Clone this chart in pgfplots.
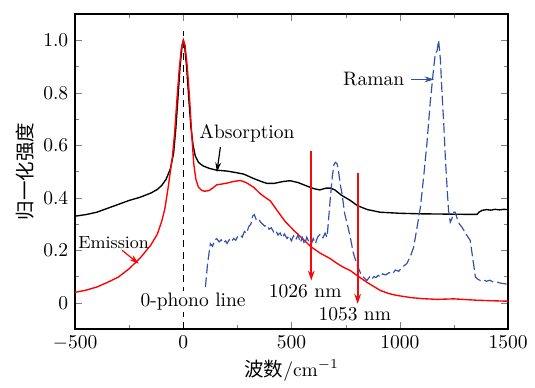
\documentclass[border=0pt]{standalone}
\usepackage{pgfplots}
\pgfplotsset{compat=1.18}
\usepackage{fontspec}
\newfontfamily\cjk{Noto Sans CJK SC}
\usetikzlibrary{arrows.meta}
\definecolor{ramanblue}{RGB}{50,80,170}
\definecolor{arrred}{RGB}{245,10,10}
\begin{document}
\begin{tikzpicture}
\begin{axis}[
  scale only axis,
  width=222pt, height=161.5pt,
  xmin=-500, xmax=1500, ymin=-0.1, ymax=1.1,
  xtick={-500,0,500,1000,1500},
  ytick={0,0.2,0.4,0.6,0.8,1.0},
  yticklabels={0,0.2,0.4,0.6,0.8,1.0},
  xticklabel style={/pgf/number format/set thousands separator={}},
  minor x tick num=1, minor y tick num=1,
  tick align=inside,
  major tick length=3.5pt, minor tick length=2pt,
  axis line style={line width=0.8pt},
  xlabel={{\cjk 波数}/cm$^{-1}$},
  ylabel={{\cjk 归一化强度}},
  ylabel style={yshift=-2pt},
  xlabel style={yshift=2pt},
  clip=false,
]
% 0-phonon dashed line
\addplot[black, line width=0.7pt, dash pattern=on 3.5pt off 2.5pt] coordinates {(0,-0.1) (0,1.035)};
% Absorption
\addplot[black, line width=0.7pt] coordinates {
(-500,0.330) (-450,0.336) (-400,0.345) (-350,0.360) (-300,0.375) (-250,0.390)
(-200,0.402) (-150,0.418) (-120,0.432) (-100,0.447) (-80,0.470) (-60,0.510)
(-45,0.57) (-35,0.66) (-25,0.78) (-15,0.90) (-5,0.985) (0,1.0) (5,0.985)
(15,0.90) (25,0.78) (35,0.67) (45,0.60) (55,0.56) (70,0.535) (90,0.522)
(120,0.512) (155,0.505) (200,0.502) (250,0.495) (280,0.49) (320,0.475)
(360,0.462) (386,0.455) (420,0.455) (460,0.462) (494,0.465) (530,0.458)
(570,0.445) (602,0.435) (630,0.430) (660,0.437) (680,0.437) (700,0.430)
(730,0.410) (771,0.390) (802,0.371) (850,0.355) (910,0.345) (1000,0.341)
(1095,0.339) (1200,0.338) (1300,0.337) (1357,0.337) (1365,0.345) (1380,0.352)
(1400,0.355) (1420,0.353) (1440,0.356) (1460,0.354) (1480,0.356) (1500,0.355)
};
% Emission
\addplot[red, line width=0.7pt] coordinates {
(-500,0.040) (-450,0.048) (-400,0.060) (-350,0.078) (-300,0.098) (-250,0.130)
(-200,0.170) (-150,0.220) (-120,0.262) (-100,0.310) (-85,0.360) (-70,0.440)
(-60,0.500) (-50,0.560) (-40,0.65) (-30,0.77) (-20,0.88) (-10,0.965) (0,1.0)
(8,0.98) (18,0.90) (28,0.79) (38,0.65) (48,0.53) (58,0.47) (70,0.44)
(85,0.428) (100,0.425) (120,0.428) (140,0.440) (155,0.450) (175,0.452)
(202,0.456) (230,0.462) (263,0.466) (290,0.458) (325,0.440) (356,0.415)
(386,0.397) (402,0.388) (433,0.352) (470,0.310) (510,0.276) (550,0.245)
(587,0.215) (630,0.190) (679,0.168) (710,0.150) (740,0.135) (771,0.123)
(802,0.104) (850,0.077) (910,0.047) (950,0.035) (987,0.028) (1050,0.020)
(1100,0.016) (1172,0.013) (1249,0.015) (1350,0.010) (1420,0.008) (1500,0.006)
};
% Raman
\addplot[ramanblue, line width=0.6pt, dash pattern=on 5pt off 2pt] coordinates {
(102,0.06) (112,0.15) (125,0.225) (135,0.215) (145,0.240) (155,0.244)
(165,0.232) (175,0.240) (185,0.228) (195,0.236) (202,0.226) (212,0.240)
(222,0.232) (232,0.245) (242,0.238) (252,0.255) (263,0.258) (272,0.250)
(282,0.272) (292,0.265) (302,0.290) (312,0.300) (320,0.330) (328,0.336)
(336,0.318) (346,0.322) (356,0.308) (366,0.300) (376,0.292) (386,0.296)
(396,0.280) (406,0.286) (417,0.270) (427,0.276) (437,0.258) (447,0.266)
(457,0.248) (467,0.262) (479,0.245) (489,0.256) (499,0.236) (509,0.255)
(519,0.240) (530,0.258) (540,0.230) (550,0.248) (560,0.222) (570,0.250)
(580,0.232) (590,0.220) (600,0.245) (610,0.226) (620,0.250) (633,0.262)
(645,0.248) (655,0.265) (664,0.250) (672,0.330) (679,0.400) (688,0.480)
(695,0.525) (702,0.535) (710,0.530) (717,0.500) (725,0.450) (733,0.415)
(745,0.340) (760,0.290) (771,0.250) (785,0.190) (802,0.145) (820,0.110)
(835,0.095) (848,0.085) (860,0.098) (870,0.090) (880,0.100) (890,0.096)
(900,0.105) (910,0.098) (920,0.110) (935,0.106) (950,0.115) (965,0.110)
(980,0.125) (995,0.120) (1010,0.135) (1033,0.150) (1050,0.180) (1064,0.212)
(1080,0.290) (1095,0.364) (1110,0.480) (1125,0.606) (1140,0.760) (1149,0.835)
(1157,0.900) (1164,0.950) (1172,0.960) (1179,1.000) (1187,0.930) (1195,0.797)
(1203,0.680) (1210,0.555) (1218,0.440) (1225,0.352) (1233,0.307) (1240,0.320)
(1248,0.345) (1256,0.345) (1265,0.320) (1275,0.300) (1287,0.288) (1300,0.270)
(1315,0.250) (1325,0.238) (1335,0.180) (1349,0.098) (1360,0.090) (1372,0.085)
(1385,0.088) (1400,0.082) (1415,0.086) (1430,0.080) (1449,0.079) (1465,0.075)
(1480,0.073) (1500,0.070)
};
% vertical wavelength arrows
\addplot[arrred, line width=1pt, -{Stealth[length=5pt,width=3.4pt]}] coordinates {(591,0.58) (591,0.085)};
\addplot[arrred, line width=1pt, -{Stealth[length=5pt,width=3.4pt]}] coordinates {(805,0.494) (805,-0.004)};
% annotations
\node[fill=white, inner sep=1pt] at (axis cs:45,0.005) {0-phono line};
\node at (axis cs:294,0.644) {Absorption};
\draw[black, line width=0.6pt, -{Stealth[length=5pt,width=3pt]}] (axis cs:171,0.593) -- (axis cs:155,0.498);
\node at (axis cs:-322,0.231) {\small Emission};
\draw[red, line width=0.6pt, -{Stealth[length=5pt,width=3pt]}] (axis cs:-283,0.2) -- (axis cs:-206,0.149);
\node at (axis cs:879,0.851) {Raman};
\draw[ramanblue, line width=0.6pt, -{Stealth[length=5pt,width=3pt]}] (axis cs:1052,0.851) -- (axis cs:1159,0.851);
\node at (axis cs:563,0.044) {1026 nm};
\node at (axis cs:792,-0.045) {1053 nm};
\end{axis}
\path ([xshift=-38.5pt,yshift=-27.2pt]current axis.south west) rectangle ([xshift=13.8pt,yshift=7.2pt]current axis.north east);
\end{tikzpicture}
\end{document}
